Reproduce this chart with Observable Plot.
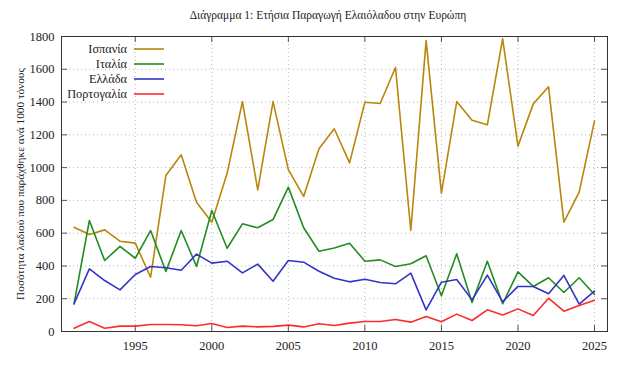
<!DOCTYPE html>
<html><head><meta charset="utf-8">
<script src="https://cdn.jsdelivr.net/npm/d3@7"></script>
<script src="https://cdn.jsdelivr.net/npm/@observablehq/plot@0.6"></script>
<style>
body{margin:0;background:#fff;}
#wrap{position:relative;width:622px;height:365px;font-family:'Liberation Serif';}
#title{position:absolute;top:9px;left:0;width:656px;text-align:center;font-size:11.5px;color:#222;font-family:'Liberation Serif';}
#legend{position:absolute;left:0;top:0;}
#wrap svg text{font-family:'Liberation Serif' !important;}
</style></head>
<body>
<div id="wrap"><div id="title">Διάγραμμα 1: Ετήσια Παραγωγή Ελαιόλαδου στην Ευρώπη</div></div>
<script>
const years = d3.range(1991, 2026);
const countries = ["Ισπανία", "Ιταλία", "Ελλάδα", "Πορτογαλία"];
const colors = ["#b8860b", "#228b22", "#3434c4", "#ff2a2a"];
const spain = [636,592,620,551,539,331,952,1078,789,667,965,1403,864,1403,988,824,1115,1237,1029,1399,1391,1611,616,1775,844,1403,1289,1261,1786,1131,1389,1493,667,850,1285];
const italy = [169,677,433,519,447,616,366,616,397,738,508,657,633,683,881,633,490,510,539,429,437,397,413,462,218,474,177,429,169,364,275,328,238,328,226];
const greece = [169,382,311,254,348,397,389,374,472,417,429,358,411,307,433,423,368,325,303,319,299,291,356,132,301,317,193,344,181,275,275,230,342,167,246];
const portugal = [20,61,20,33,33,43,43,41,35,49,24,33,28,31,39,28,47,37,51,61,61,73,57,92,59,106,67,132,100,138,98,203,124,159,191];
const xTicks = [1995, 2000, 2005, 2010, 2015, 2020, 2025];
const yTicks = [0, 200, 400, 600, 800, 1000, 1200, 1400, 1600, 1800];
const yLabel = "Ποσότητα λαδιού που παράχθηκε ανά 1000 τόνους";

const series = [spain, italy, greece, portugal];
const data = [];
series.forEach((vals, i) => vals.forEach((v, j) => data.push({country: countries[i], year: years[j], value: v})));

const W = 622, H = 365, mL = 61, mR = 15, mT = 36, mB = 34;
const fw = W - mL - mR, fh = H - mT - mB, tk = 6;

const chart = Plot.plot({
  width: W, height: H,
  marginLeft: mL, marginRight: mR, marginTop: mT, marginBottom: mB,
  style: {fontFamily: "'Liberation Serif'", fontSize: "12.5px", color: "#222", background: "#fff"},
  x: {domain: [1990.18, 2025.85]},
  y: {domain: [0, 1800]},
  color: {domain: countries, range: colors},
  marks: [
    Plot.gridX(xTicks, {stroke: "#999", strokeOpacity: 0.7, strokeDasharray: "1,3"}),
    Plot.gridY(yTicks, {stroke: "#999", strokeOpacity: 0.7, strokeDasharray: "1,3"}),
    Plot.ruleX(xTicks, {stroke: "#555", insetTop: fh - tk}),
    Plot.ruleX(xTicks, {stroke: "#555", insetBottom: fh - tk}),
    Plot.ruleY(yTicks, {stroke: "#555", insetRight: fw - tk}),
    Plot.ruleY(yTicks, {stroke: "#555", insetLeft: fw - tk}),
    Plot.axisX(xTicks, {tickSize: 0, tickPadding: 10, tickFormat: d => String(d), label: null}),
    Plot.axisY(yTicks, {tickSize: 0, tickPadding: 7, tickFormat: d => String(d), label: null}),
    Plot.axisY({tickSize: 0, tickFormat: () => "", ticks: [], label: yLabel, labelAnchor: "center", labelArrow: "none", labelOffset: 46, fontSize: 11.3}),
    Plot.line(data, {x: "year", y: "value", z: "country", stroke: "country", strokeWidth: 1.6}),
    Plot.frame({stroke: "#333", strokeWidth: 1})
  ]
});
document.getElementById("wrap").appendChild(chart);

// legend overlay
const leg = d3.select("#wrap").append("svg").attr("id", "legend").attr("width", W).attr("height", H);
countries.forEach((c, i) => {
  const y = 49 + i * 15;
  leg.append("text").attr("x", 127).attr("y", y).attr("dy", "0.35em").attr("text-anchor", "end")
    .attr("font-size", "12.3px").attr("fill", "#222").text(c);
  leg.append("line").attr("x1", 134).attr("x2", 164).attr("y1", y).attr("y2", y)
    .attr("stroke", colors[i]).attr("stroke-width", 1.6);
});
</script>
</body></html>
